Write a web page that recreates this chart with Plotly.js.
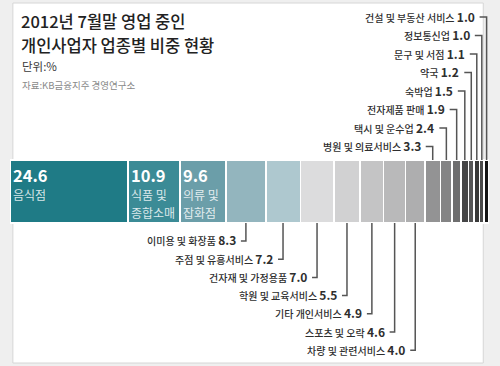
<!DOCTYPE html>
<html>
<head>
<meta charset="utf-8">
<script src="https://cdn.plot.ly/plotly-3.0.1.min.js"></script>
<style>html,body{margin:0;padding:0;background:#efefef;}#chart{width:500px;height:366px;}</style>
</head>
<body>
<div id="chart"></div>
<script>
// ---- data ----
const categories = ['음식점','식품 및 종합소매','의류 및 잡화점','이미용 및 화장품','주점 및 유흥서비스','건자재 및 가정용품','학원 및 교육서비스','기타 개인서비스','스포츠 및 오락','차량 및 관련서비스','병원 및 의료서비스','택시 및 운수업','전자제품 판매','숙박업','약국','문구 및 서점','정보통신업','건설 및 부동산 서비스'];
const values = [24.6,10.9,9.6,8.3,7.2,7.0,5.5,4.9,4.6,4.0,3.3,2.4,1.9,1.5,1.2,1.1,1.0,1.0];
const colors = ['#1f7b86','#3b8b96','#6b9ea9','#93b5be','#aec8cf','#dcdcdd','#d1d1d2','#c4c4c5','#b9b9ba','#aeaeaf','#939394','#848485','#6e6e6f','#464647','#565657','#393939','#4b4b4b','#161616'];
const insideLines = [['음식점'],['식품 및','종합소매'],['의류 및','잡화점']];
const valueText = values.map(v => v.toFixed(1));
const titleLines = ['2012년 7월말 영업 중인','개인사업자 업종별 비중 현황'];
const unitText = '단위:%';
const sourceText = '자료:KB금융지주 경영연구소';

// ---- layout helpers ----
const W = 500, H = 366;
const plotL = 10, plotR = 11, plotW = W - plotL - plotR;
const barTop = 160, barBot = 223;
const pxPerUnit = barBot - barTop;              // bar thickness = 1 unit
const center = (barTop + barBot) / 2;
const yRange = [-(H - center) / pxPerUnit, center / pxPerUnit];
const py = p => 1 - p / H;                      // pixel y -> paper y
const dx = px => px / plotW * 100;              // pixel length -> x data units
const FONT = 'Noto Sans CJK KR, Noto Sans, sans-serif';
const numSpan = t => '<span style="font-size:12px"><b>' + t + '</b></span>';

// cumulative positions
const starts = [], mids = [];
let acc = 0;
values.forEach(v => { starts.push(acc); mids.push(acc + v / 2); acc += v; });

const traces = values.map((v, i) => ({
  type: 'bar', orientation: 'h', y: [0], x: [v], width: 1,
  name: categories[i],
  marker: {color: colors[i], line: {color: '#ffffff', width: 1.5}},
  hoverinfo: 'skip', showlegend: false
}));

const annotations = [];
const shapes = [];

// frame
shapes.push({type: 'rect', xref: 'paper', yref: 'paper', layer: 'below',
  x0: 3 / W, x1: 494 / W, y0: py(363), y1: py(3),
  fillcolor: '#ffffff', line: {color: '#d6d6d6', width: 1}});

// title lines
titleLines.forEach((t, k) => {
  annotations.push({xref: 'paper', yref: 'paper', x: 9 / W, y: py(21 + k * 24), xanchor: 'left', yanchor: 'middle',
    text: t, showarrow: false, font: {family: FONT, size: 16.5, color: '#222', weight: 500}});
});

// header texts
annotations.push({xref: 'paper', yref: 'paper', x: 10 / W, y: py(66), xanchor: 'left', yanchor: 'middle',
  text: unitText, showarrow: false, font: {family: FONT, size: 11.5, color: '#3a3a3a'}});
annotations.push({xref: 'paper', yref: 'paper', x: 10 / W, y: py(85), xanchor: 'left', yanchor: 'middle',
  text: sourceText, showarrow: false, font: {family: FONT, size: 9.5, color: '#8a8a8a'}});

// inside labels (first three segments)
insideLines.forEach((lines, i) => {
  annotations.push({xref: 'x', yref: 'paper', x: starts[i], y: py(175), xanchor: 'left', yanchor: 'middle',
    xshift: 1, text: '<b>' + valueText[i] + '</b>', showarrow: false,
    font: {family: FONT, size: 16.5, color: '#ffffff'}});
  lines.forEach((ln, k) => {
    annotations.push({xref: 'x', yref: 'paper', x: starts[i], y: py(194 + k * 18.5), xanchor: 'left', yanchor: 'middle',
      xshift: 1, text: ln, showarrow: false,
      font: {family: FONT, size: 12, color: 'rgba(255,255,255,0.82)'}});
  });
});

// bottom callouts (indices 3..9)
for (let i = 3; i <= 9; i++) {
  const ly = 240 + (i - 3) * 18.2;
  annotations.push({xref: 'x', yref: 'paper', x: mids[i], y: py(ly), xanchor: 'right', yanchor: 'middle',
    xshift: -8, text: categories[i] + ' ' + numSpan(valueText[i]), showarrow: false,
    font: {family: FONT, size: 10, color: '#2e2e2e', weight: 500}});
  shapes.push({type: 'path', xref: 'x', yref: 'paper',
    path: `M ${mids[i]} ${py(barBot)} L ${mids[i]} ${py(ly + 1)} L ${mids[i] - dx(5)} ${py(ly + 1)}`,
    line: {color: '#555', width: 1.5}});
}

// top callouts (indices 10..17), highest index at top
for (let i = 10; i <= 17; i++) {
  const ly = 16 + (17 - i) * 18.5;
  annotations.push({xref: 'x', yref: 'paper', x: mids[i], y: py(ly), xanchor: 'right', yanchor: 'middle',
    xshift: -10, text: categories[i] + ' ' + numSpan(valueText[i]), showarrow: false,
    font: {family: FONT, size: 10, color: '#2e2e2e', weight: 500}});
  shapes.push({type: 'path', xref: 'x', yref: 'paper',
    path: `M ${mids[i] - dx(7)} ${py(ly + 1)} L ${mids[i]} ${py(ly + 1)} L ${mids[i]} ${py(barTop)}`,
    line: {color: '#555', width: 1.5}});
}

const layout = {
  width: W, height: H,
  margin: {l: plotL, r: plotR, t: 0, b: 0, pad: 0},
  paper_bgcolor: '#efefef', plot_bgcolor: 'rgba(0,0,0,0)',
  barmode: 'stack', bargap: 0,
  xaxis: {range: [0, 100], visible: false, fixedrange: true},
  yaxis: {range: yRange, visible: false, fixedrange: true},
  showlegend: false,
  annotations: annotations,
  shapes: shapes
};

Plotly.newPlot('chart', traces, layout, {staticPlot: true, displayModeBar: false});
</script>
</body>
</html>
